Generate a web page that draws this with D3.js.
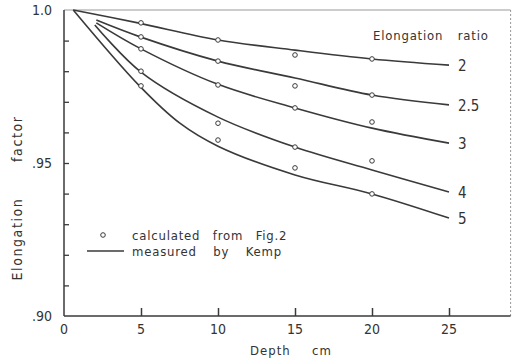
<!DOCTYPE html>
<html><head><meta charset="utf-8">
<script src="https://cdn.jsdelivr.net/npm/d3@7/dist/d3.min.js"></script>
<style>
html,body{margin:0;padding:0;background:#fff;}
svg text{font-family:"DejaVu Sans Condensed","DejaVu Sans",sans-serif;font-stretch:condensed;fill:#333;}
</style></head>
<body><svg id="c" width="515" height="362"></svg>
<script>
// ---- data ----
const ratios = ["2", "2.5", "3", "4", "5"];
// measured by Kemp (solid curves): depth (cm) and elongation factor
const kempDepth_2   = [0.6, 4.8, 10, 15, 20, 25];
const kempValue_2   = [1.0, 0.9958, 0.9902, 0.9869, 0.984, 0.982];
const kempDepth_25  = [2.1, 4.9, 10, 15, 20, 25];
const kempValue_25  = [0.9967, 0.9913, 0.9833, 0.9778, 0.9722, 0.969];
const kempDepth_3   = [2.1, 5, 10, 15, 20, 25];
const kempValue_3   = [0.9958, 0.9873, 0.9757, 0.968, 0.9614, 0.9565];
const kempDepth_4   = [2.0, 5, 10, 15, 20, 25];
const kempValue_4   = [0.9951, 0.9797, 0.9650, 0.9552, 0.9477, 0.9405];
const kempDepth_5   = [0.6, 4.9, 7.5, 10, 15, 20, 25];
const kempValue_5   = [1.0, 0.9752, 0.9631, 0.9555, 0.9461, 0.9399, 0.932];
// calculated from Fig.2 (circles)
const calcDepth = [5, 10, 15, 20];
const calc_2  = [0.9958, 0.9902, 0.9853, 0.984];
const calc_25 = [0.9912, 0.9833, 0.9752, 0.9722];
const calc_3  = [0.9873, 0.9755, 0.968, 0.9634];
const calc_4  = [0.980, 0.963, 0.9552, 0.9507];
const calc_5  = [0.9752, 0.9575, 0.9484, 0.9399];
const xTicks = [5, 10, 15, 20, 25];
const xTickLabels = ["0", "5", "10", "15", "20", "25"];
const yTickLabels = [[1.0, "1.0"], [0.95, ".95"], [0.90, ".90"]];

const kemp = [
  [kempDepth_2, kempValue_2], [kempDepth_25, kempValue_25], [kempDepth_3, kempValue_3],
  [kempDepth_4, kempValue_4], [kempDepth_5, kempValue_5]
];
const calc = [calc_2, calc_25, calc_3, calc_4, calc_5];

// ---- chart ----
const svg = d3.select("#c");
const x = d3.scaleLinear().domain([0, 29]).range([64, 510.6]);
const y = d3.scaleLinear().domain([0.90, 1.0]).range([316, 10]);
const ink = "#3a3a3a";

// frame
svg.append("line").attr("x1", x(0)).attr("x2", x(29)).attr("y1", y(1)).attr("y2", y(1))
  .attr("stroke", "#999").attr("stroke-width", 1);
svg.append("line").attr("x1", x(29)).attr("x2", x(29)).attr("y1", y(1)).attr("y2", y(0.9))
  .attr("stroke", "#999").attr("stroke-width", 1).attr("stroke-dasharray", "2,2");

// axes
const xAxis = d3.axisBottom(x).tickValues(xTicks).tickSize(-8).tickFormat("");
const gx = svg.append("g").attr("transform", `translate(0,${y(0.9)})`).call(xAxis);
gx.select(".domain").attr("d", `M${x(0)},0H${x(29)}`).attr("stroke", ink).attr("stroke-width", 1.5);
gx.selectAll(".tick line").attr("stroke", ink).attr("stroke-width", 1.5);

const yAxis = d3.axisLeft(y).tickValues(d3.range(1, 10).map(i => 0.90 + i * 0.01)).tickSize(-5).tickFormat("");
const gy = svg.append("g").attr("transform", `translate(${x(0)},0)`).call(yAxis);
gy.select(".domain").attr("d", `M0,${y(1)}V${y(0.9)}`).attr("stroke", ink).attr("stroke-width", 1.5);
gy.selectAll(".tick line").attr("stroke", ink).attr("stroke-width", 1.3);

// tick labels
svg.selectAll(".xl").data(xTickLabels).join("text")
  .attr("x", d => x(+d)).attr("y", 334).attr("text-anchor", "middle")
  .attr("font-size", 14).text(d => d);
svg.selectAll(".yl").data(yTickLabels).join("text")
  .attr("x", 52).attr("y", d => y(d[0]) + 5).attr("text-anchor", "end")
  .attr("font-size", 14).text(d => d[1]);

// axis titles
svg.append("text").attr("x", 250).attr("y", 355).attr("font-size", 13)
  .attr("letter-spacing", 1).text("Depth");
svg.append("text").attr("x", 312).attr("y", 355).attr("font-size", 13)
  .attr("letter-spacing", 1).text("cm");
svg.append("text").attr("transform", `translate(22,198) rotate(-90)`)
  .attr("text-anchor", "middle").attr("font-size", 14).attr("letter-spacing", 1.6)
  .attr("word-spacing", 30).text("Elongation factor");

// curves
const line = d3.line().x(d => x(d[0])).y(d => y(d[1])).curve(d3.curveCatmullRom.alpha(0.5));
kemp.forEach((k, i) => {
  const pts = k[0].map((d, j) => [d, k[1][j]]);
  svg.append("path").attr("d", line(pts)).attr("fill", "none")
    .attr("stroke", ink).attr("stroke-width", 1.6);
});

// circles
calc.forEach(vals => {
  svg.selectAll(null).data(vals).join("circle")
    .attr("cx", (d, j) => x(calcDepth[j])).attr("cy", d => y(d)).attr("r", 2.3)
    .attr("fill", "#fff").attr("stroke", ink).attr("stroke-width", 1);
});

// ratio labels
svg.append("text").attr("x", 373).attr("y", 40).attr("font-size", 13)
  .attr("letter-spacing", 0.8).attr("word-spacing", 10).text("Elongation ratio");
ratios.forEach((r, i) => {
  const k = kemp[i];
  const lastV = k[1][k[1].length - 1];
  svg.append("text").attr("x", x(25) + 9).attr("y", y(lastV) + 6)
    .attr("font-size", 15).text(r);
});

// legend
svg.append("circle").attr("cx", 103).attr("cy", 235).attr("r", 2.3)
  .attr("fill", "#fff").attr("stroke", ink).attr("stroke-width", 1);
svg.append("text").attr("x", 132).attr("y", 240).attr("font-size", 13)
  .attr("letter-spacing", 0.8).attr("word-spacing", 8).text("calculated from Fig.2");
svg.append("line").attr("x1", 87).attr("x2", 124).attr("y1", 251).attr("y2", 251)
  .attr("stroke", ink).attr("stroke-width", 1.5);
svg.append("text").attr("x", 132).attr("y", 256).attr("font-size", 13)
  .attr("letter-spacing", 0.8).attr("word-spacing", 12).text("measured by Kemp");
</script></body></html>
